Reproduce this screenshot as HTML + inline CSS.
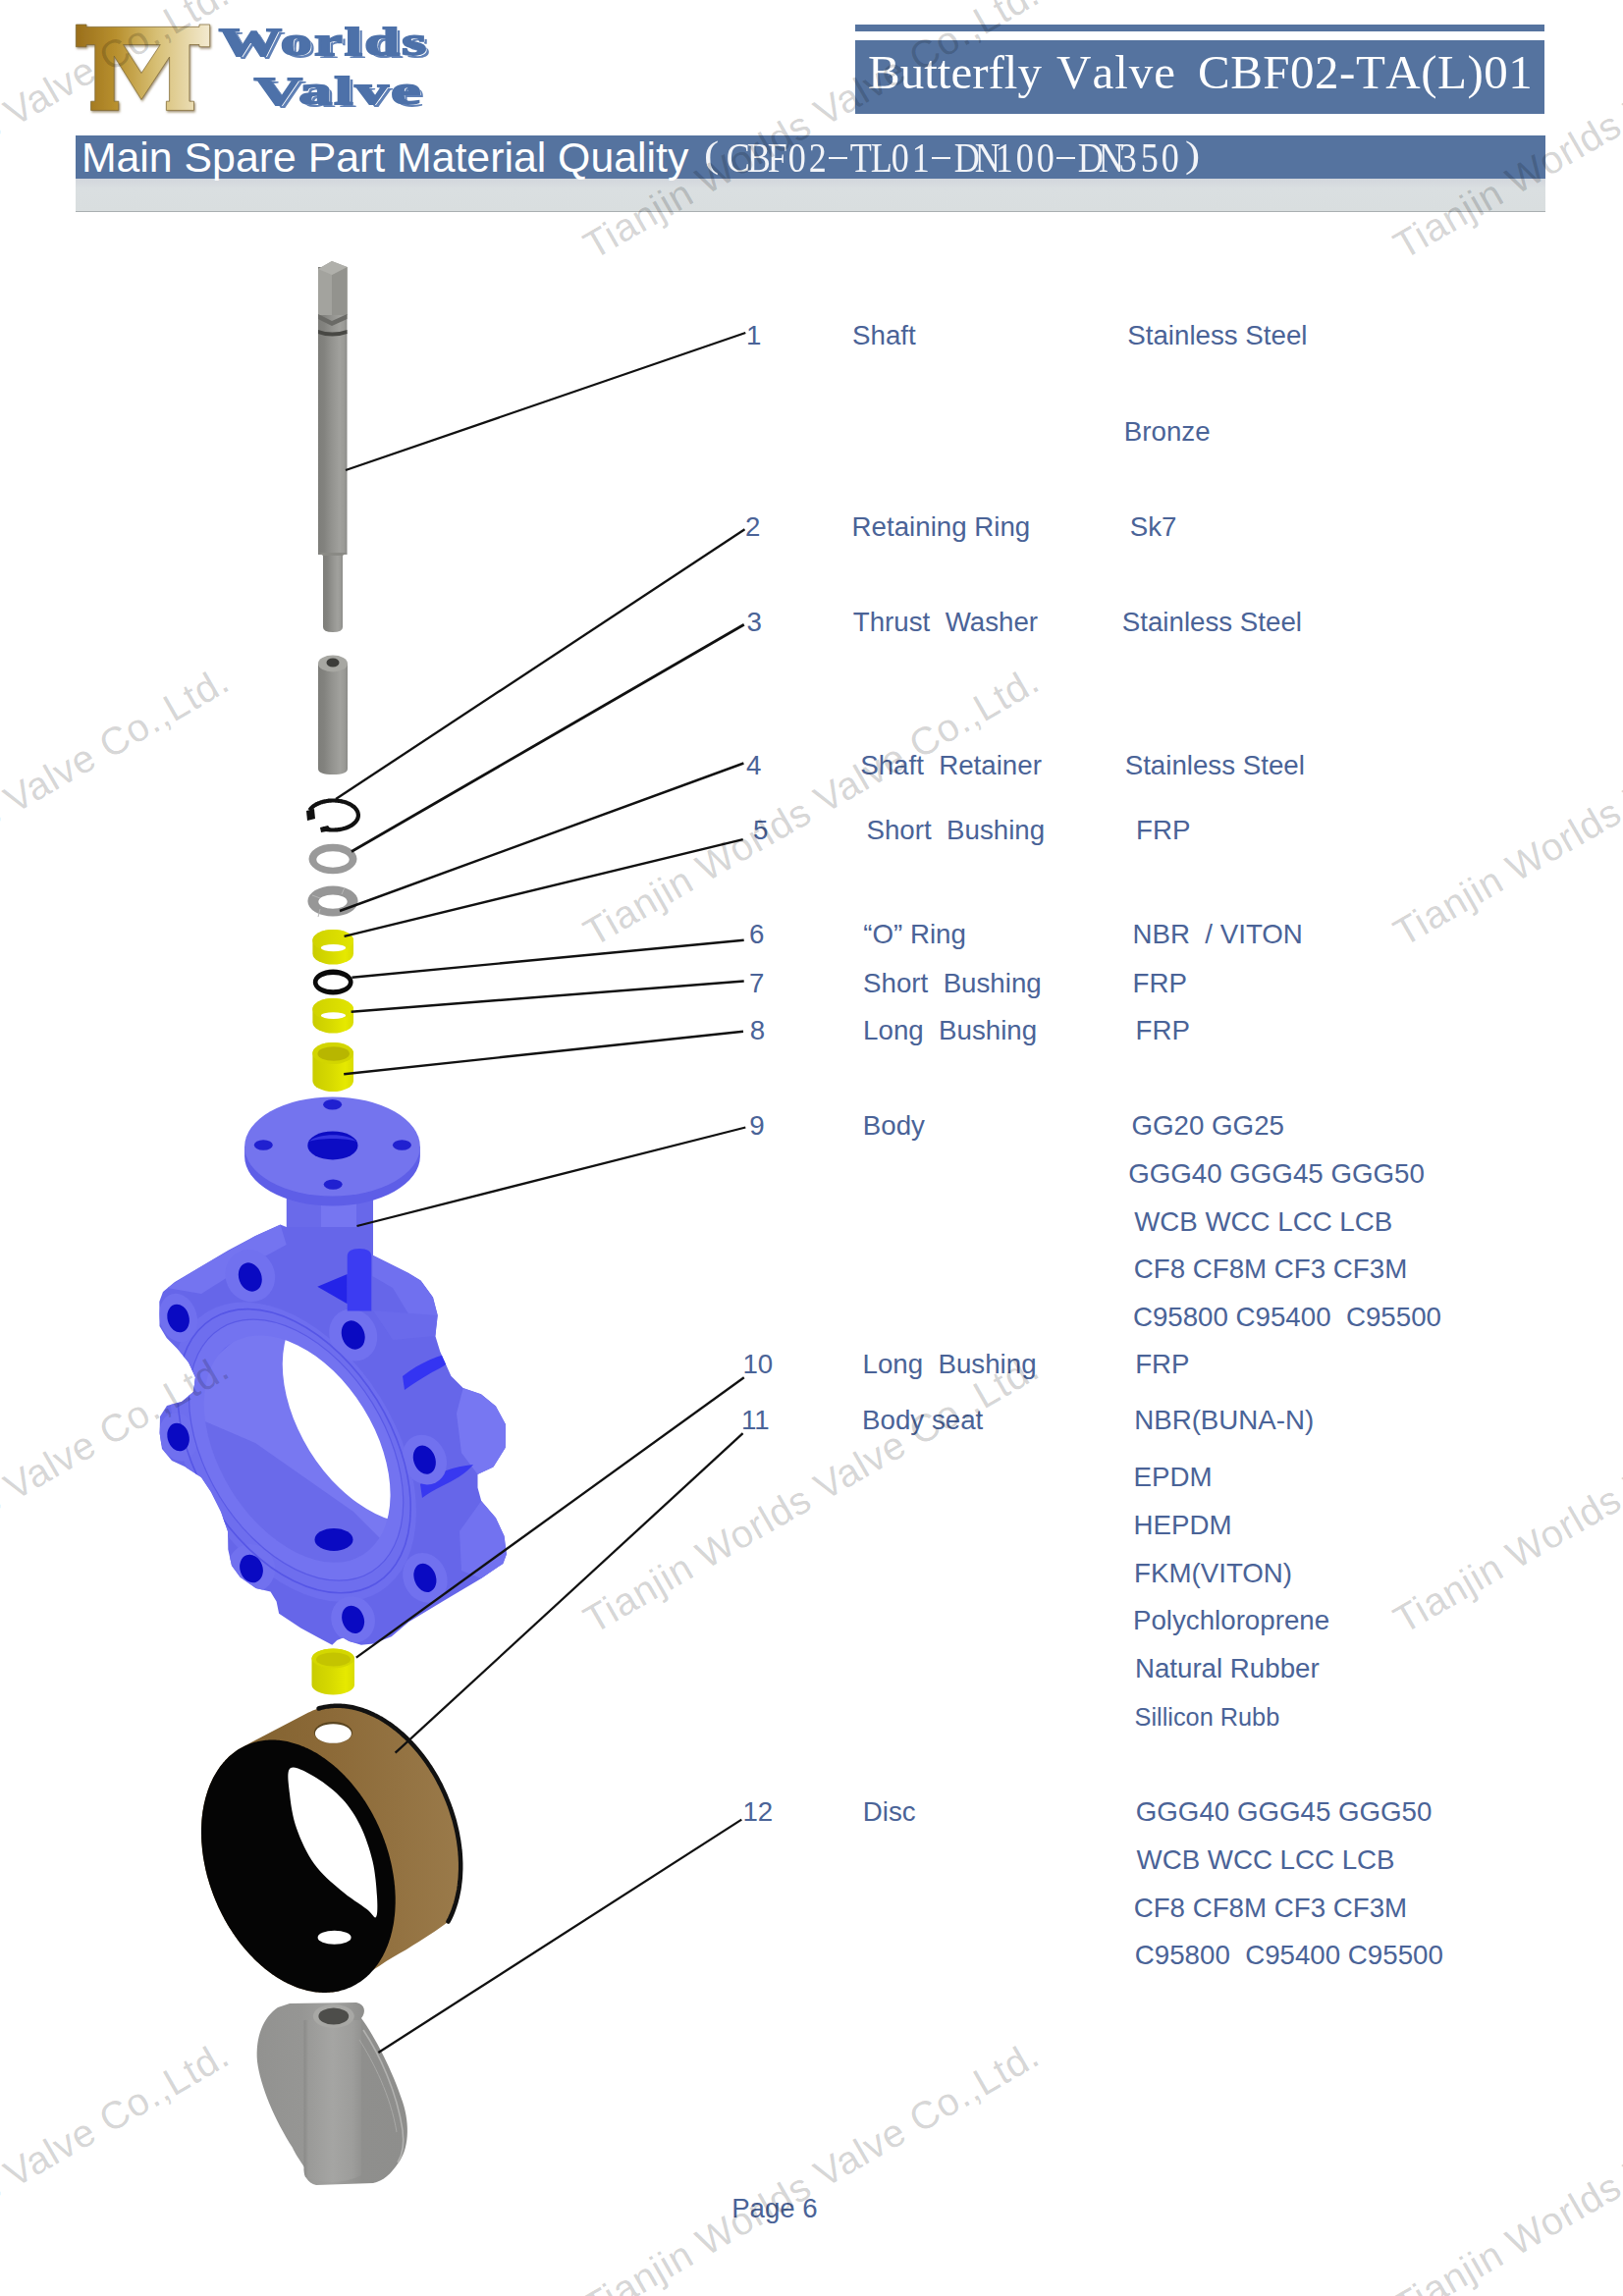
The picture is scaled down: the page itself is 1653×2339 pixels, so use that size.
<!DOCTYPE html>
<html><head><meta charset="utf-8"><title>Butterfly Valve CBF02-TA(L)01</title><style>
*{margin:0;padding:0;box-sizing:border-box}
html,body{width:1653px;height:2339px;overflow:hidden;background:#fff}
body{position:relative;font-family:"Liberation Sans",sans-serif}
.abs{position:absolute}
.t{position:absolute;white-space:pre;line-height:1;font-family:"Liberation Sans",sans-serif}
.wv{position:absolute;white-space:pre;font-family:"Liberation Serif",serif;font-weight:bold;font-size:40px;line-height:1;
 color:#4d71a9;transform-origin:0 0;transform:scaleX(1.42);letter-spacing:1.5px;-webkit-text-stroke:1.8px #4d71a9;
 text-shadow:1.2px 1.2px 0 #fff,2.6px 2.6px 0 #5f80b6}
.ser{position:absolute;white-space:pre;font-family:"Liberation Serif",serif;font-size:49px;line-height:1;color:#fff;font-kerning:none}
.cd{position:absolute;top:138.7px;display:inline-block;text-align:center;font-family:"Liberation Serif",serif;font-size:43px;line-height:1;color:#f2f4f8;
 transform:scaleX(0.84);transform-origin:50% 0}
.cdp{position:absolute;top:137.5px;font-family:"Liberation Serif",serif;font-size:38px;line-height:1;color:#f2f4f8;transform:scaleX(1.2);transform-origin:0 0}
.wm{position:absolute;white-space:pre;font-family:"Liberation Sans",sans-serif;font-size:39.5px;letter-spacing:0.8px;line-height:1;color:rgba(0,0,0,0.18);
 transform:rotate(-30deg)}
</style></head><body>
<svg class="abs" style="left:0;top:0" width="460" height="130" viewBox="0 0 460 130">
<defs><filter id="sh" x="-10%" y="-10%" width="130%" height="130%"><feDropShadow dx="1" dy="1.5" stdDeviation="1" flood-color="#5a4010" flood-opacity="0.6"/></filter></defs>
<path filter="url(#sh)" fill="url(#gGold)" stroke="#7d6530" stroke-width="0.7" d="M77.4,25 L88,25 L88,27.4 L203,27.4 L203,25 L213.7,25 L213.7,47.7 L203,47.7 L203,45.5 L192.9,45.5
 L192.9,103.2 L197.5,103.2 L197.5,112.4 L169.4,112.4 L169.4,103.2 L172.6,103.2 L172.6,58 L144,101.5 L116.2,57
 L116.2,103.2 L120.8,103.2 L120.8,112.4 L92.6,112.4 L92.6,103.2 L96.8,103.2 L96.8,45.5 L88,45.5 L88,47.7 L77.4,47.7 Z
 M125.5,45.5 L163.3,45.5 L144,74.5 Z" fill-rule="evenodd"/>
</svg>
<div class="wv" style="left:223px;top:23px;transform:scaleX(1.6)">Worlds</div>
<div class="wv" style="left:259px;top:73px;transform:scaleX(1.69)">Valve</div>
<div class="abs" style="left:871px;top:25px;width:702px;height:7px;background:#55739f"></div>
<div class="abs" style="left:871px;top:41px;width:702px;height:75px;background:#55739f"></div>
<div class="ser" style="left:884px;top:49px;">Butterfly</div>
<div class="ser" style="left:1076px;top:49px;letter-spacing:1px">Valve</div>
<div class="ser" style="left:1220px;top:49px;letter-spacing:0.5px">CBF02-TA(L)01</div>
<div class="abs" style="left:77px;top:138px;width:1497px;height:43.5px;background:#55739f"></div>
<div class="abs" style="left:77px;top:181.5px;width:1497px;height:33px;background:linear-gradient(#d2d6dc,#dadfe1 30%,#d9dedf)"></div>
<div class="abs" style="left:77px;top:214.5px;width:1497px;height:1.5px;background:#a9afb1"></div>
<div class="t" style="left:82.9px;top:139.2px;font-size:42.8px;color:#fff;">Main Spare Part Material Quality</div>
<div class="abs" style="left:0;top:0;"><span class="cdp" style="left:717px;">(</span><span class="cd" style="left:737.5px;width:21.1px;">C</span><span class="cd" style="left:758.6px;width:21.1px;">B</span><span class="cd" style="left:779.7px;width:21.1px;">F</span><span class="cd" style="left:800.8px;width:21.1px;">0</span><span class="cd" style="left:821.9px;width:21.1px;">2</span><span class="abs" style="left:843.5px;top:159.8px;width:19px;height:1.8px;background:#f2f4f8"></span><span class="cd" style="left:864.1px;width:21.1px;">T</span><span class="cd" style="left:885.2px;width:21.1px;">L</span><span class="cd" style="left:906.3px;width:21.1px;">0</span><span class="cd" style="left:927.4px;width:21.1px;">1</span><span class="abs" style="left:949.0px;top:159.8px;width:19px;height:1.8px;background:#f2f4f8"></span><span class="cd" style="left:969.6px;width:21.1px;">D</span><span class="cd" style="left:990.7px;width:21.1px;">N</span><span class="cd" style="left:1011.8px;width:21.1px;">1</span><span class="cd" style="left:1032.9px;width:21.1px;">0</span><span class="cd" style="left:1054.0px;width:21.1px;">0</span><span class="abs" style="left:1075.6px;top:159.8px;width:19px;height:1.8px;background:#f2f4f8"></span><span class="cd" style="left:1096.2px;width:21.1px;">D</span><span class="cd" style="left:1117.3px;width:21.1px;">N</span><span class="cd" style="left:1138.4px;width:21.1px;">3</span><span class="cd" style="left:1159.5px;width:21.1px;">5</span><span class="cd" style="left:1180.6px;width:21.1px;">0</span><span class="cdp" style="left:1206.5px;">)</span></div>
<svg class="abs" style="left:0;top:0" width="1653" height="2339" viewBox="0 0 1653 2339"><defs>
<linearGradient id="gSh" x1="0" x2="1" y1="0" y2="0">
 <stop offset="0" stop-color="#7e7e7a"/><stop offset="0.2" stop-color="#82827e"/>
 <stop offset="0.45" stop-color="#92928e"/><stop offset="0.75" stop-color="#a1a19d"/><stop offset="0.9" stop-color="#9a9a96"/><stop offset="1" stop-color="#8a8a87"/>
</linearGradient>
<linearGradient id="gY" x1="0" x2="1" y1="0" y2="0">
 <stop offset="0" stop-color="#c9cc00"/><stop offset="0.45" stop-color="#d7da00"/>
 <stop offset="0.8" stop-color="#e6e900"/><stop offset="1" stop-color="#d9dc00"/>
</linearGradient>
<linearGradient id="gYt" x1="0" x2="1" y1="0" y2="0">
 <stop offset="0" stop-color="#cfd200"/><stop offset="1" stop-color="#e2e500"/>
</linearGradient>
<linearGradient id="gGold" x1="0" x2="1" y1="0" y2="0">
 <stop offset="0" stop-color="#9a6f1c"/><stop offset="0.3" stop-color="#b8902e"/>
 <stop offset="0.6" stop-color="#d7bf74"/><stop offset="1" stop-color="#f3ead0"/>
</linearGradient>
<linearGradient id="gBrown" x1="0" x2="1" y1="0" y2="0">
 <stop offset="0" stop-color="#7e5e2c"/><stop offset="0.5" stop-color="#8c6a38"/><stop offset="1" stop-color="#9a7a4a"/>
</linearGradient>
<linearGradient id="gDisc" x1="0" x2="1" y1="0" y2="0">
 <stop offset="0" stop-color="#929290"/><stop offset="0.3" stop-color="#969694"/>
 <stop offset="0.5" stop-color="#a2a2a0"/><stop offset="0.7" stop-color="#8f8f8d"/><stop offset="1" stop-color="#8e8e8c"/>
</linearGradient>
</defs>
<rect x="324" y="339" width="29.5" height="226" fill="url(#gSh)"/>
<path d="M329,563 L349,563 L349,639 Q349,644 339,644 Q329,644 329,639 Z" fill="url(#gSh)"/>
<path d="M324,563 L353.5,563 L349,566 L329,566 Z" fill="#8a8a85"/>
<rect x="324" y="272" width="29.5" height="68" fill="url(#gSh)"/>
<path d="M324,274 L338,266 L353.5,272 L353.5,321 L324,321 Z" fill="#a3a39e"/>
<path d="M338,280 L353.5,272 L353.5,321 L338,321 Z" fill="#93938e"/>
<path d="M324,274 L338,266 L353.5,272 L338,280 Z" fill="#b0b0ab"/>
<path d="M324,320 L338,327 L353.5,320 L353.5,325 L338,332 L324,325 Z" fill="#6a6a66"/>
<path d="M324,336 Q338,341 353.5,336 L353.5,340 Q338,345 324,340 Z" fill="#484844"/>
<path d="M324,676 L354,676 L354,783 Q354,789 339,789 Q324,789 324,783 Z" fill="url(#gSh)"/>
<ellipse cx="339" cy="676" rx="15" ry="8.5" fill="#a7a7a2"/>
<ellipse cx="339" cy="675" rx="6.5" ry="4.5" fill="#3c3c39"/>
<path d="M315.4,825.4 L315.8,824.8 L316.2,824.3 L316.7,823.7 L317.1,823.2 L317.6,822.7 L318.2,822.2 L318.8,821.7 L319.4,821.2 L320.0,820.7 L320.7,820.3 L321.4,819.9 L322.2,819.4 L322.9,819.0 L323.7,818.7 L324.5,818.3 L325.4,818.0 L326.3,817.6 L327.1,817.3 L328.0,817.1 L329.0,816.8 L329.9,816.6 L330.9,816.4 L331.8,816.2 L332.8,816.0 L333.8,815.9 L334.8,815.7 L335.8,815.7 L336.8,815.6 L337.8,815.5 L338.8,815.5 L339.9,815.5 L340.9,815.5 L341.9,815.6 L342.9,815.6 L343.9,815.7 L344.9,815.9 L345.9,816.0 L346.9,816.2 L347.9,816.3 L348.8,816.6 L349.8,816.8 L350.7,817.0 L351.6,817.3 L352.5,817.6 L353.3,817.9 L354.2,818.3 L355.0,818.6 L355.8,819.0 L356.6,819.4 L357.3,819.8 L358.0,820.2 L358.7,820.7 L359.3,821.2 L360.0,821.6 L360.6,822.1 L361.1,822.6 L361.6,823.1 L362.1,823.7 L362.5,824.2 L363.0,824.8 L363.3,825.3 L363.7,825.9 L364.0,826.5 L364.2,827.0 L364.4,827.6 L364.6,828.2 L364.7,828.8 L364.8,829.4 L364.9,830.0 L364.9,830.6 L364.9,831.2 L364.8,831.8 L364.7,832.4 L364.5,833.0 L364.4,833.6 L364.1,834.2 L363.9,834.7 L363.5,835.3 L363.2,835.9 L362.8,836.4 L362.4,837.0 L361.9,837.5 L361.4,838.0 L360.9,838.6 L360.3,839.1 L359.7,839.5 L359.1,840.0 L358.4,840.5 L357.8,840.9 L357.0,841.3 L356.3,841.7 L355.5,842.1 L354.7,842.5 L353.9,842.8 L353.0,843.2 L352.1,843.5 L351.3,843.8 L350.3,844.0 L349.4,844.3 L348.5,844.5 L347.5,844.7 L346.5,844.9 L345.6,845.1 L344.6,845.2 L343.6,845.3 L342.5,845.4 L341.5,845.4 L340.5,845.5 L339.5,845.5 L338.5,845.5 L337.5,845.5 L336.4,845.4 L335.4,845.3 L334.4,845.2 L333.4,845.1 L332.4,844.9 L331.5,844.8 L330.5,844.6 L329.6,844.3 L328.6,844.1" fill="none" stroke="#111" stroke-width="4.2"/>
<path d="M312,826 L320,824 L321,834 L313,836 Z" fill="#111"/>
<path d="M326,843 L334,841 L338,846 L327,848 Z" fill="#111"/>
<path d="M314.5,875 a24.5,15.3 0 1,0 49,0 a24.5,15.3 0 1,0 -49,0 Z M322.3,875.5 a16.7,8.3 0 1,0 33.4,0 a16.7,8.3 0 1,0 -33.4,0 Z" fill="#9a9a9a" fill-rule="evenodd"/>
<path d="M313.4,918 a25.6,15.5 0 1,0 51.2,0 a25.6,15.5 0 1,0 -51.2,0 Z M324.3,918.6 a14.7,7.2 0 1,0 29.4,0 a14.7,7.2 0 1,0 -29.4,0 Z" fill="#979797" fill-rule="evenodd"/>
<path d="M351,904 L348,911 M326,926 L324,934 M318,912 L326,915" stroke="#b5b5b5" stroke-width="1" fill="none"/>
<path d="M318.4,958 L318.4,971.5 A20.8,11 0 0,0 360.0,971.5 L360.0,958 A20.8,11 0 0,0 318.4,958 Z" fill="url(#gY)"/><ellipse cx="339.2" cy="958" rx="20.8" ry="11" fill="url(#gYt)"/><ellipse cx="339.5" cy="965.6" rx="12.6" ry="3.6" fill="#fff"/>
<path d="M318.4,1028 L318.4,1041.6 A20.8,11 0 0,0 360.0,1041.6 L360.0,1028 A20.8,11 0 0,0 318.4,1028 Z" fill="url(#gY)"/><ellipse cx="339.2" cy="1028" rx="20.8" ry="11" fill="url(#gYt)"/><ellipse cx="339.5" cy="1034.6" rx="12.6" ry="3.3" fill="#fff"/>
<path d="M318.4,1073 L318.4,1101 A20.8,11 0 0,0 360,1101 L360,1073 A20.8,11 0 0,0 318.4,1073 Z" fill="url(#gY)"/>
<ellipse cx="339.2" cy="1073" rx="20.8" ry="11" fill="#d2d500"/>
<ellipse cx="339.7" cy="1073.5" rx="16.2" ry="7.3" fill="#b8b600"/>
<path d="M318.8,1000.5 a20.4,13 0 1,0 40.8,0 a20.4,13 0 1,0 -40.8,0 Z M323.5,1000.6 a15.7,7.6 0 1,0 31.4,0 a15.7,7.6 0 1,0 -31.4,0 Z" fill="#0a0a0a" fill-rule="evenodd"/>
<rect x="291.8" y="1200" width="88.1" height="110" fill="#6a6aea"/>
<rect x="327" y="1212" width="36" height="98" fill="#7676f1"/>
<rect x="363" y="1212" width="16.9" height="98" fill="#6868ea"/>
<path d="M285.5,1247.4 L260.0,1259.0 L232.0,1274.0 L200.0,1293.0 L178.0,1306.0 L166.0,1316.0 L162.3,1326.0 L162.5,1351.0 L169.7,1363.0 L182.0,1375.6 L192.0,1388.0 L199.0,1403.0 L197.0,1418.0 L185.0,1428.0 L170.0,1432.0 L163.0,1443.0 L162.6,1460.0 L165.0,1476.0 L175.0,1488.0 L188.0,1494.0 L205.0,1505.0 L215.0,1520.0 L225.0,1540.0 L232.0,1560.0 L232.3,1578.5 L236.0,1595.0 L244.6,1606.8 L260.7,1617.9 L275.5,1621.6 L281.6,1631.5 L284.1,1643.8 L306.3,1658.6 L324.7,1668.4 L338.3,1675.8 L343.2,1670.9 L349.4,1668.4 L355.6,1672.1 L367.9,1675.8 L380.2,1674.6 L398.7,1667.2 L416.3,1652.2 L453.2,1630.0 L490.2,1607.9 L512.4,1593.0 L516.0,1583.2 L513.6,1564.7 L505.0,1546.3 L490.2,1529.0 L486.5,1515.5 L486.5,1502.0 L502.5,1494.5 L514.8,1474.8 L515.0,1451.0 L505.0,1432.5 L490.0,1420.2 L471.7,1414.0 L459.4,1401.7 L448.3,1377.0 L443.4,1361.0 L445.8,1340.0 L441.0,1321.6 L428.6,1304.4 L416.3,1297.0 L379.3,1278.5 L379.3,1250.0 L291.7,1250.0 Z" fill="#6666e9"/>
<clipPath id="cSil"><path d="M285.5,1247.4 L260.0,1259.0 L232.0,1274.0 L200.0,1293.0 L178.0,1306.0 L166.0,1316.0 L162.3,1326.0 L162.5,1351.0 L169.7,1363.0 L182.0,1375.6 L192.0,1388.0 L199.0,1403.0 L197.0,1418.0 L185.0,1428.0 L170.0,1432.0 L163.0,1443.0 L162.6,1460.0 L165.0,1476.0 L175.0,1488.0 L188.0,1494.0 L205.0,1505.0 L215.0,1520.0 L225.0,1540.0 L232.0,1560.0 L232.3,1578.5 L236.0,1595.0 L244.6,1606.8 L260.7,1617.9 L275.5,1621.6 L281.6,1631.5 L284.1,1643.8 L306.3,1658.6 L324.7,1668.4 L338.3,1675.8 L343.2,1670.9 L349.4,1668.4 L355.6,1672.1 L367.9,1675.8 L380.2,1674.6 L398.7,1667.2 L416.3,1652.2 L453.2,1630.0 L490.2,1607.9 L512.4,1593.0 L516.0,1583.2 L513.6,1564.7 L505.0,1546.3 L490.2,1529.0 L486.5,1515.5 L486.5,1502.0 L502.5,1494.5 L514.8,1474.8 L515.0,1451.0 L505.0,1432.5 L490.0,1420.2 L471.7,1414.0 L459.4,1401.7 L448.3,1377.0 L443.4,1361.0 L445.8,1340.0 L441.0,1321.6 L428.6,1304.4 L416.3,1297.0 L379.3,1278.5 L379.3,1250.0 L291.7,1250.0 Z"/></clipPath>
<g clip-path="url(#cSil)">
<path d="M285.5,1247.4 L260,1259 L200,1293 L170,1312 L205,1318 L240,1296 L291.7,1268 Z" fill="#7474f0"/>
<path d="M379.3,1278.5 L416.3,1297 L428.6,1304.4 L441,1321.6 L445.8,1340 L443.4,1361 L420,1345 L400,1312 L379.3,1300 Z" fill="#7070ef"/>
<path d="M471.7,1414 L490,1420.2 L505,1432.5 L515,1451 L514.8,1474.8 L502.5,1494.5 L486.5,1502 L470,1480 L465,1440 Z" fill="#7777f2"/>
<path d="M490.2,1529 L505,1546.3 L513.6,1564.7 L516,1583.2 L512.4,1593 L490.2,1607.9 L470,1600 L468,1560 Z" fill="#7272f0"/>
<path d="M410,1402 C428,1388 446,1380 470,1376 C462,1386 452,1392 440,1398 C430,1404 420,1410 412,1416 Z" fill="#3434f2"/>
<path d="M428,1512 C445,1500 462,1494 482,1492 C474,1502 462,1508 450,1514 C442,1518 435,1522 430,1526 Z" fill="#3838f0"/>
<path d="M380,1335 L445,1340 L443.4,1361 L400,1365 Z" fill="#6a6aeb"/>
<ellipse cx="298.65" cy="1479.18" rx="167.51" ry="104.64" transform="rotate(58.23 298.65 1479.18)" fill="#6e6eee" />
<ellipse cx="254.8" cy="1299.6" rx="25" ry="27" transform="rotate(-25 254.8 1299.6)" fill="#7171ef"/>
<ellipse cx="359.7" cy="1360" rx="24" ry="27" transform="rotate(-25 359.7 1360)" fill="#7171ef"/>
<ellipse cx="432.3" cy="1487.1" rx="22" ry="26" transform="rotate(-25 432.3 1487.1)" fill="#7171ef"/>
<ellipse cx="432.9" cy="1607.3" rx="22" ry="26" transform="rotate(-25 432.9 1607.3)" fill="#7171ef"/>
<ellipse cx="359.6" cy="1649.8" rx="22" ry="24" transform="rotate(-25 359.6 1649.8)" fill="#7171ef"/>
<ellipse cx="256" cy="1597.7" rx="24" ry="25" transform="rotate(-25 256 1597.7)" fill="#7171ef"/>
<ellipse cx="181.6" cy="1342.5" rx="19" ry="25" transform="rotate(-15 181.6 1342.5)" fill="#7070ef"/>
<ellipse cx="181.6" cy="1463.8" rx="19" ry="25" transform="rotate(-15 181.6 1463.8)" fill="#7070ef"/>
<ellipse cx="299.6" cy="1478.2" rx="158.6" ry="99.1" transform="rotate(58.23 299.6 1478.2)" fill="none" stroke="#5656e6" stroke-width="1.6"/>
<ellipse cx="301.6" cy="1477.2" rx="145.9" ry="91.2" transform="rotate(58.23 301.6 1477.2)" fill="#7373f0" stroke="#5a5ae6" stroke-width="1.2"/>
<ellipse cx="302.65" cy="1476.18" rx="126.90" ry="79.27" transform="rotate(58.23 302.65 1476.18)" fill="#7878f1" />
<clipPath id="cBF"><ellipse cx="302.65" cy="1476.18" rx="126.90" ry="79.27" transform="rotate(58.23 302.65 1476.18)" fill="#000" /></clipPath>
<g clip-path="url(#cBF)"><path d="M190,1440 L260,1470 L360,1540 L420,1600 L420,1640 L180,1640 Z" fill="#6a6aea"/><path d="M190,1380 L250,1340 L262,1345 L205,1395 Z" fill="#5c5cec"/></g>
<g clip-path="url(#cBF)"><ellipse cx="382.65" cy="1436.18" rx="126.90" ry="79.27" transform="rotate(58.23 382.65 1436.18)" fill="#ffffff" /></g>
<ellipse cx="254.8" cy="1301" rx="11.5" ry="15" transform="rotate(-20 254.8 1301)" fill="#0a0ac2"/>
<ellipse cx="181.6" cy="1343" rx="11" ry="14.5" transform="rotate(-15 181.6 1343)" fill="#0a0ac2"/>
<ellipse cx="359.7" cy="1360" rx="11.5" ry="15" transform="rotate(-20 359.7 1360)" fill="#0a0ac2"/>
<ellipse cx="181.6" cy="1464" rx="11" ry="14.5" transform="rotate(-15 181.6 1464)" fill="#0a0ac2"/>
<ellipse cx="432.3" cy="1487.1" rx="11" ry="15" transform="rotate(-20 432.3 1487.1)" fill="#0a0ac2"/>
<ellipse cx="256" cy="1598" rx="11.5" ry="14.5" transform="rotate(-20 256 1598)" fill="#0a0ac2"/>
<ellipse cx="432.9" cy="1607.3" rx="11" ry="15" transform="rotate(-20 432.9 1607.3)" fill="#0a0ac2"/>
<ellipse cx="359.6" cy="1649.8" rx="11" ry="14.5" transform="rotate(-20 359.6 1649.8)" fill="#0a0ac2"/>
<ellipse cx="340" cy="1568.4" rx="19.5" ry="11.5" fill="#0a0ac2"/>
</g>
<path d="M323.3,1310.8 L353.7,1297.9 L353.7,1328.3 Z" fill="#2424e8"/>
<path d="M353.7,1280 Q353.7,1272 366,1272 Q378.3,1272 378.3,1280 L378.3,1335.4 L353.7,1335.4 Z" fill="#3c3cf2"/>
<path d="M249.1,1168 L249.1,1178 A89.4,50.5 0 0,0 427.9,1178 L427.9,1168 Z" fill="#5e5ee7"/>
<ellipse cx="338.5" cy="1168" rx="89.4" ry="50.5" fill="#7474ee"/>
<ellipse cx="338.9" cy="1166.9" rx="25.6" ry="14.5" fill="#0c0cc4"/>
<path d="M315,1163 C322,1154 356,1154 363,1163 C355,1159 323,1159 315,1163 Z" fill="#3434e0"/>
<ellipse cx="338.6" cy="1125.3" rx="9.5" ry="5.2" fill="#2020d0"/>
<ellipse cx="268.3" cy="1166.5" rx="9.5" ry="5.2" fill="#2020d0"/>
<ellipse cx="409.4" cy="1166.5" rx="9.5" ry="5.2" fill="#2020d0"/>
<ellipse cx="339.2" cy="1206.6" rx="9.5" ry="5.2" fill="#2020d0"/>
<path d="M317.5,1689.5 L317.5,1716.5 A21.75,10 0 0,0 361,1716.5 L361,1689.5 A21.75,10 0 0,0 317.5,1689.5 Z" fill="url(#gY)"/>
<ellipse cx="339.25" cy="1689.5" rx="21.75" ry="10" fill="#d4d700"/>
<ellipse cx="339.5" cy="1690.5" rx="17.5" ry="7" fill="#c4c400"/>
<path d="M205.0,1865.5 L205.0,1863.3 L205.1,1861.2 L205.2,1859.1 L205.3,1857.0 L205.4,1854.9 L205.6,1852.8 L205.8,1850.7 L206.1,1848.6 L206.3,1846.6 L206.6,1844.6 L207.0,1842.6 L207.3,1840.6 L207.7,1838.6 L208.1,1836.6 L208.6,1834.7 L209.0,1832.8 L209.5,1830.9 L210.1,1829.0 L210.6,1827.2 L211.2,1825.4 L211.8,1823.6 L212.5,1821.8 L213.1,1820.0 L213.8,1818.3 L214.6,1816.6 L215.3,1814.9 L216.1,1813.3 L216.9,1811.6 L217.7,1810.0 L218.6,1808.5 L219.5,1806.9 L220.4,1805.4 L221.3,1803.9 L222.3,1802.5 L223.3,1801.0 L224.3,1799.6 L225.3,1798.3 L226.4,1796.9 L227.5,1795.6 L228.6,1794.4 L229.7,1793.1 L230.9,1791.9 L232.0,1790.8 L233.2,1789.6 L234.4,1788.5 L235.7,1787.5 L236.9,1786.4 L238.2,1785.4 L239.5,1784.5 L240.8,1783.5 L242.2,1782.6 L243.5,1781.8 L244.9,1781.0 L246.3,1780.2 L247.7,1779.4 L314.2,1744.6 L315.6,1743.9 L317.1,1743.3 L318.6,1742.6 L320.0,1742.0 L321.5,1741.5 L323.0,1740.9 L324.6,1740.5 L326.1,1740.0 L327.6,1739.6 L329.2,1739.3 L330.8,1738.9 L332.4,1738.6 L334.0,1738.4 L335.6,1738.2 L337.2,1738.0 L338.8,1737.9 L340.5,1737.8 L342.1,1737.7 L343.8,1737.7 L345.4,1737.7 L347.1,1737.8 L348.8,1737.9 L350.5,1738.0 L352.2,1738.2 L353.9,1738.4 L355.6,1738.7 L357.3,1739.0 L359.0,1739.3 L360.7,1739.7 L362.4,1740.1 L364.1,1740.6 L365.9,1741.1 L367.6,1741.6 L369.3,1742.2 L371.0,1742.8 L372.8,1743.4 L374.5,1744.1 L376.2,1744.8 L377.9,1745.6 L379.6,1746.3 L381.4,1747.2 L383.1,1748.0 L384.8,1748.9 L386.5,1749.9 L388.2,1750.8 L389.9,1751.8 L391.6,1752.9 L393.3,1754.0 L394.9,1755.1 L396.6,1756.2 L398.3,1757.4 L399.9,1758.6 L401.5,1759.9 L403.2,1761.1 L404.8,1762.4 L406.4,1763.8 L408.0,1765.1 L409.6,1766.5 L411.2,1768.0 L412.7,1769.4 L414.3,1770.9 L415.8,1772.5 L417.4,1774.0 L418.9,1775.6 L420.4,1777.2 L421.8,1778.8 L423.3,1780.5 L424.8,1782.2 L426.2,1783.9 L427.6,1785.6 L429.0,1787.4 L430.4,1789.2 L431.7,1791.0 L433.1,1792.8 L434.4,1794.6 L435.7,1796.5 L437.0,1798.4 L438.3,1800.3 L439.5,1802.3 L440.7,1804.2 L441.9,1806.2 L443.1,1808.2 L444.3,1810.2 L445.4,1812.2 L446.5,1814.3 L447.6,1816.4 L448.7,1818.4 L449.7,1820.5 L450.7,1822.6 L451.7,1824.7 L452.7,1826.9 L453.6,1829.0 L454.5,1831.2 L455.4,1833.3 L456.3,1835.5 L457.1,1837.7 L458.0,1839.9 L458.7,1842.1 L459.5,1844.3 L460.2,1846.5 L460.9,1848.7 L461.6,1851.0 L462.3,1853.2 L462.9,1855.4 L463.5,1857.7 L464.0,1859.9 L464.6,1862.2 L465.1,1864.4 L465.6,1866.7 L466.0,1868.9 L466.4,1871.2 L466.8,1873.4 L467.2,1875.6 L467.5,1877.9 L467.8,1880.1 L468.1,1882.3 L468.3,1884.6 L468.6,1886.8 L468.7,1889.0 L468.9,1891.2 L469.0,1893.4 L469.1,1895.6 L469.2,1897.8 L469.2,1900.0 L469.2,1902.1 L469.2,1904.3 L469.1,1906.4 L469.0,1908.6 L468.9,1910.7 L468.8,1912.8 L468.6,1914.9 L468.4,1916.9 L468.1,1919.0 L467.9,1921.0 L467.6,1923.1 L467.3,1925.1 L466.9,1927.1 L466.5,1929.0 L466.1,1931.0 L465.7,1932.9 L465.2,1934.8 L464.7,1936.7 L464.2,1938.6 L463.6,1940.4 L463.0,1942.3 L462.4,1944.1 L461.8,1945.8 L461.1,1947.6 L460.4,1949.3 L459.7,1951.0 L458.9,1952.7 L458.1,1954.4 L457.3,1956.0 L456.5,1957.6 L455.6,1959.2 L454.7,1960.7 L453.8,1962.2 L452.9,1963.7 L451.9,1965.2 L450.9,1966.6 L449.9,1968.0 L448.9,1969.3 L447.8,1970.7 L446.8,1972.0 L445.6,1973.3 L444.5,1974.5 L443.4,1975.7 L442.2,1976.9 L441.0,1978.0 L439.8,1979.1 L438.5,1980.2 L437.3,1981.2 L436.0,1982.2 L434.7,1983.2 L433.4,1984.1 L432.0,1985.0 L430.7,1985.8 L429.3,1986.7 L427.9,1987.4 L426.5,1988.2 L360.0,2023.0 L358.6,2023.7 L357.1,2024.4 L355.7,2025.0 L354.2,2025.6 L352.7,2026.2 L351.2,2026.7 L349.7,2027.2 L348.1,2027.6 L346.6,2028.0 L345.0,2028.4 L343.4,2028.7 L341.9,2029.0 L340.3,2029.2 L338.7,2029.4 L337.0,2029.6 L335.4,2029.7 L333.8,2029.8 L332.1,2029.9 L330.5,2029.9 L328.8,2029.9 L327.1,2029.8 L325.4,2029.7 L323.7,2029.6 L322.1,2029.4 L320.4,2029.2 L318.7,2028.9 L316.9,2028.6 L315.2,2028.3 L313.5,2027.9 L311.8,2027.5 L310.1,2027.0 L308.4,2026.6 L306.6,2026.0 L304.9,2025.5 L303.2,2024.9 L301.5,2024.2 L299.7,2023.5 L298.0,2022.8 L296.3,2022.1 L294.6,2021.3 L292.9,2020.4 L291.1,2019.6 L289.4,2018.7 L287.7,2017.7 L286.0,2016.8 L284.3,2015.8 L282.6,2014.7 L281.0,2013.7 L279.3,2012.5 L277.6,2011.4 L276.0,2010.2 L274.3,2009.0 L272.7,2007.8 L271.0,2006.5 L269.4,2005.2 L267.8,2003.8 L266.2,2002.5 L264.6,2001.1 L263.0,1999.6 L261.5,1998.2 L259.9,1996.7 L258.4,1995.2 L256.9,1993.6 L255.3,1992.0 L253.9,1990.4 L252.4,1988.8 L250.9,1987.1 L249.5,1985.5 L248.0,1983.7 L246.6,1982.0 L245.2,1980.2 L243.8,1978.5 L242.5,1976.7 L241.1,1974.8 L239.8,1973.0 L238.5,1971.1 L237.2,1969.2 L236.0,1967.3 L234.7,1965.3 L233.5,1963.4 L232.3,1961.4 L231.1,1959.4 L230.0,1957.4 L228.8,1955.4 L227.7,1953.3 L226.6,1951.3 L225.6,1949.2 L224.5,1947.1 L223.5,1945.0 L222.5,1942.9 L221.5,1940.7 L220.6,1938.6 L219.7,1936.4 L218.8,1934.3 L217.9,1932.1 L217.1,1929.9 L216.3,1927.7 L215.5,1925.5 L214.7,1923.3 L214.0,1921.1 L213.3,1918.9 L212.6,1916.6 L212.0,1914.4 L211.3,1912.2 L210.7,1909.9 L210.2,1907.7 L209.6,1905.4 L209.1,1903.2 L208.7,1901.0 L208.2,1898.7 L207.8,1896.5 L207.4,1894.2 L207.0,1892.0 L206.7,1889.7 L206.4,1887.5 L206.1,1885.3 L205.9,1883.0 L205.7,1880.8 L205.5,1878.6 L205.3,1876.4 L205.2,1874.2 L205.1,1872.0 L205.1,1869.8 L205.0,1867.7 Z" fill="url(#gBrown)"/>
<path d="M455.5,1958.6 C446,1966 432,1975 414,1986 C405,1991 396,1996 386,2003 L370,2013 L340,2032 L340,2045 L520,2045 L520,1958.6 Z" fill="#fff"/>
<path d="M324.6,1740.5 L326.1,1740.0 L327.6,1739.6 L329.2,1739.3 L330.8,1738.9 L332.4,1738.6 L334.0,1738.4 L335.6,1738.2 L337.2,1738.0 L338.8,1737.9 L340.5,1737.8 L342.1,1737.7 L343.8,1737.7 L345.4,1737.7 L347.1,1737.8 L348.8,1737.9 L350.5,1738.0 L352.2,1738.2 L353.9,1738.4 L355.6,1738.7 L357.3,1739.0 L359.0,1739.3 L360.7,1739.7 L362.4,1740.1 L364.1,1740.6 L365.9,1741.1 L367.6,1741.6 L369.3,1742.2 L371.0,1742.8 L372.8,1743.4 L374.5,1744.1 L376.2,1744.8 L377.9,1745.6 L379.6,1746.3 L381.4,1747.2 L383.1,1748.0 L384.8,1748.9 L386.5,1749.9 L388.2,1750.8 L389.9,1751.8 L391.6,1752.9 L393.3,1754.0 L394.9,1755.1 L396.6,1756.2 L398.3,1757.4 L399.9,1758.6 L401.5,1759.9 L403.2,1761.1 L404.8,1762.4 L406.4,1763.8 L408.0,1765.1 L409.6,1766.5 L411.2,1768.0 L412.7,1769.4 L414.3,1770.9 L415.8,1772.5 L417.4,1774.0 L418.9,1775.6 L420.4,1777.2 L421.8,1778.8 L423.3,1780.5 L424.8,1782.2 L426.2,1783.9 L427.6,1785.6 L429.0,1787.4 L430.4,1789.2 L431.7,1791.0 L433.1,1792.8 L434.4,1794.6 L435.7,1796.5 L437.0,1798.4 L438.3,1800.3 L439.5,1802.3 L440.7,1804.2 L441.9,1806.2 L443.1,1808.2 L444.3,1810.2 L445.4,1812.2 L446.5,1814.3 L447.6,1816.4 L448.7,1818.4 L449.7,1820.5 L450.7,1822.6 L451.7,1824.7 L452.7,1826.9 L453.6,1829.0 L454.5,1831.2 L455.4,1833.3 L456.3,1835.5 L457.1,1837.7 L458.0,1839.9 L458.7,1842.1 L459.5,1844.3 L460.2,1846.5 L460.9,1848.7 L461.6,1851.0 L462.3,1853.2 L462.9,1855.4 L463.5,1857.7 L464.0,1859.9 L464.6,1862.2 L465.1,1864.4 L465.6,1866.7 L466.0,1868.9 L466.4,1871.2 L466.8,1873.4 L467.2,1875.6 L467.5,1877.9 L467.8,1880.1 L468.1,1882.3 L468.3,1884.6 L468.6,1886.8 L468.7,1889.0 L468.9,1891.2 L469.0,1893.4 L469.1,1895.6 L469.2,1897.8 L469.2,1900.0 L469.2,1902.1 L469.2,1904.3 L469.1,1906.4 L469.0,1908.6 L468.9,1910.7 L468.8,1912.8 L468.6,1914.9 L468.4,1916.9 L468.1,1919.0 L467.9,1921.0 L467.6,1923.1 L467.3,1925.1 L466.9,1927.1 L466.5,1929.0 L466.1,1931.0 L465.7,1932.9 L465.2,1934.8 L464.7,1936.7 L464.2,1938.6 L463.6,1940.4 L463.0,1942.3 L462.4,1944.1 L461.8,1945.8 L461.1,1947.6 L460.4,1949.3 L459.7,1951.0 L458.9,1952.7 L458.1,1954.4 L457.3,1956.0 L456.5,1957.6" fill="none" stroke="#111" stroke-width="4.5" stroke-linecap="round"/>
<path d="M355.7,2025.0 L354.2,2025.6 L352.7,2026.2 L351.2,2026.7 L349.7,2027.2 L348.1,2027.6 L346.6,2028.0 L345.0,2028.4 L343.4,2028.7 L341.9,2029.0 L340.3,2029.2 L338.7,2029.4 L337.0,2029.6 L335.4,2029.7 L333.8,2029.8 L332.1,2029.9 L330.5,2029.9 L328.8,2029.9 L327.1,2029.8 L325.4,2029.7 L323.7,2029.6 L322.1,2029.4 L320.4,2029.2 L318.7,2028.9 L316.9,2028.6 L315.2,2028.3 L313.5,2027.9 L311.8,2027.5 L310.1,2027.0 L308.4,2026.6 L306.6,2026.0 L304.9,2025.5 L303.2,2024.9 L301.5,2024.2 L299.7,2023.5 L298.0,2022.8 L296.3,2022.1 L294.6,2021.3 L292.9,2020.4 L291.1,2019.6 L289.4,2018.7 L287.7,2017.7 L286.0,2016.8 L284.3,2015.8 L282.6,2014.7 L281.0,2013.7 L279.3,2012.5 L277.6,2011.4 L276.0,2010.2 L274.3,2009.0 L272.7,2007.8 L271.0,2006.5 L269.4,2005.2 L267.8,2003.8 L266.2,2002.5 L264.6,2001.1 L263.0,1999.6 L261.5,1998.2 L259.9,1996.7 L258.4,1995.2 L256.9,1993.6 L255.3,1992.0 L253.9,1990.4 L252.4,1988.8 L250.9,1987.1 L249.5,1985.5 L248.0,1983.7 L246.6,1982.0 L245.2,1980.2 L243.8,1978.5 L242.5,1976.7 L241.1,1974.8 L239.8,1973.0 L238.5,1971.1 L237.2,1969.2 L236.0,1967.3 L234.7,1965.3 L233.5,1963.4 L232.3,1961.4 L231.1,1959.4 L230.0,1957.4 L228.8,1955.4 L227.7,1953.3 L226.6,1951.3 L225.6,1949.2 L224.5,1947.1 L223.5,1945.0 L222.5,1942.9 L221.5,1940.7 L220.6,1938.6 L219.7,1936.4 L218.8,1934.3 L217.9,1932.1 L217.1,1929.9 L216.3,1927.7 L215.5,1925.5 L214.7,1923.3 L214.0,1921.1 L213.3,1918.9 L212.6,1916.6 L212.0,1914.4 L211.3,1912.2 L210.7,1909.9 L210.2,1907.7 L209.6,1905.4 L209.1,1903.2 L208.7,1901.0 L208.2,1898.7 L207.8,1896.5 L207.4,1894.2 L207.0,1892.0 L206.7,1889.7 L206.4,1887.5 L206.1,1885.3 L205.9,1883.0 L205.7,1880.8 L205.5,1878.6 L205.3,1876.4 L205.2,1874.2 L205.1,1872.0 L205.1,1869.8 L205.0,1867.7 L205.0,1865.5 L205.0,1863.3 L205.1,1861.2 L205.2,1859.1 L205.3,1857.0 L205.4,1854.9 L205.6,1852.8 L205.8,1850.7 L206.1,1848.6 L206.3,1846.6 L206.6,1844.6 L207.0,1842.6 L207.3,1840.6 L207.7,1838.6 L208.1,1836.6 L208.6,1834.7 L209.0,1832.8 L209.5,1830.9 L210.1,1829.0 L210.6,1827.2 L211.2,1825.4 L211.8,1823.6 L212.5,1821.8 L213.1,1820.0 L213.8,1818.3 L214.6,1816.6 L215.3,1814.9 L216.1,1813.3 L216.9,1811.6 L217.7,1810.0 L218.6,1808.5 L219.5,1806.9 L220.4,1805.4 L221.3,1803.9 L222.3,1802.5 L223.3,1801.0 L224.3,1799.6 L225.3,1798.3 L226.4,1796.9 L227.5,1795.6 L228.6,1794.4 L229.7,1793.1 L230.9,1791.9 L232.0,1790.8 L233.2,1789.6 L234.4,1788.5 L235.7,1787.5 L236.9,1786.4 L238.2,1785.4 L239.5,1784.5 L240.8,1783.5 L242.2,1782.6 L243.5,1781.8 L244.9,1781.0 L246.3,1780.2 L247.7,1779.4 L249.1,1778.7 L250.6,1778.1 L252.1,1777.4 L253.5,1776.8 L255.0,1776.3 L256.5,1775.7 L258.1,1775.3 L259.6,1774.8 L261.1,1774.4 L262.7,1774.1 L264.3,1773.7 L265.9,1773.4 L267.5,1773.2 L269.1,1773.0 L270.7,1772.8 L272.3,1772.7 L274.0,1772.6 L275.6,1772.5 L277.3,1772.5 L278.9,1772.5 L280.6,1772.6 L282.3,1772.7 L284.0,1772.8 L285.7,1773.0 L287.4,1773.2 L289.1,1773.5 L290.8,1773.8 L292.5,1774.1 L294.2,1774.5 L295.9,1774.9 L297.6,1775.4 L299.4,1775.9 L301.1,1776.4 L302.8,1777.0 L304.5,1777.6 L306.3,1778.2 L308.0,1778.9 L309.7,1779.6 L311.4,1780.4 L313.1,1781.1 L314.9,1782.0 L316.6,1782.8 L318.3,1783.7 L320.0,1784.7 L321.7,1785.6 L323.4,1786.6 L325.1,1787.7 L326.8,1788.8 L328.4,1789.9 L330.1,1791.0 L331.8,1792.2 L333.4,1793.4 L335.0,1794.7 L336.7,1795.9 L338.3,1797.2 L339.9,1798.6 L341.5,1799.9 L343.1,1801.3 L344.7,1802.8 L346.2,1804.2 L347.8,1805.7 L349.3,1807.3 L350.9,1808.8 L352.4,1810.4 L353.9,1812.0 L355.3,1813.6 L356.8,1815.3 L358.3,1817.0 L359.7,1818.7 L361.1,1820.4 L362.5,1822.2 L363.9,1824.0 L365.2,1825.8 L366.6,1827.6 L367.9,1829.4 L369.2,1831.3 L370.5,1833.2 L371.8,1835.1 L373.0,1837.1 L374.2,1839.0 L375.4,1841.0 L376.6,1843.0 L377.8,1845.0 L378.9,1847.0 L380.0,1849.1 L381.1,1851.2 L382.2,1853.2 L383.2,1855.3 L384.2,1857.4 L385.2,1859.5 L386.2,1861.7 L387.1,1863.8 L388.0,1866.0 L388.9,1868.1 L389.8,1870.3 L390.6,1872.5 L391.5,1874.7 L392.2,1876.9 L393.0,1879.1 L393.7,1881.3 L394.4,1883.5 L395.1,1885.8 L395.8,1888.0 L396.4,1890.2 L397.0,1892.5 L397.5,1894.7 L398.1,1897.0 L398.6,1899.2 L399.1,1901.5 L399.5,1903.7 L399.9,1906.0 L400.3,1908.2 L400.7,1910.4 L401.0,1912.7 L401.3,1914.9 L401.6,1917.1 L401.8,1919.4 L402.1,1921.6 L402.2,1923.8 L402.4,1926.0 L402.5,1928.2 L402.6,1930.4 L402.7,1932.6 L402.7,1934.8 L402.7,1936.9 L402.7,1939.1 L402.6,1941.2 L402.5,1943.4 L402.4,1945.5 L402.3,1947.6 L402.1,1949.7 L401.9,1951.7 L401.6,1953.8 L401.4,1955.8 L401.1,1957.9 L400.8,1959.9 L400.4,1961.9 L400.0,1963.8 L399.6,1965.8 L399.2,1967.7 L398.7,1969.6 L398.2,1971.5 L397.7,1973.4 L397.1,1975.2 L396.5,1977.1 L395.9,1978.9 L395.3,1980.6 L394.6,1982.4 L393.9,1984.1 L393.2,1985.8 L392.4,1987.5 L391.6,1989.2 L390.8,1990.8 L390.0,1992.4 L389.1,1994.0 L388.2,1995.5 L387.3,1997.0 L386.4,1998.5 L385.4,2000.0 L384.4,2001.4 L383.4,2002.8 L382.4,2004.1 L381.3,2005.5 L380.3,2006.8 L379.1,2008.1 L378.0,2009.3 L376.9,2010.5 L375.7,2011.7 L374.5,2012.8 L373.3,2013.9 L372.0,2015.0 L370.8,2016.0 L369.5,2017.0 L368.2,2018.0 L366.9,2018.9 L365.5,2019.8 L364.2,2020.6 L362.8,2021.5 L361.4,2022.2 L360.0,2023.0 L358.6,2023.7 L357.1,2024.4 Z" fill="#050505"/>
<path d="M296.0,1801.0 C300.5,1798.3 313.2,1805.7 322.0,1811.0 C330.8,1816.3 341.5,1824.8 349.0,1833.0 C356.5,1841.2 361.9,1849.5 367.0,1860.0 C372.1,1870.5 376.7,1884.0 379.5,1896.0 C382.3,1908.0 383.4,1922.5 384.0,1932.0 C384.6,1941.5 384.7,1950.8 383.0,1953.0 C381.3,1955.2 379.7,1949.6 373.7,1945.0 C367.7,1940.4 355.8,1933.2 346.9,1925.5 C337.9,1917.8 327.4,1909.1 320.0,1898.7 C312.6,1888.3 306.4,1874.9 302.2,1863.0 C298.0,1851.1 296.0,1837.5 295.0,1827.2 C294.0,1816.9 291.5,1803.7 296.0,1801.0 Z" fill="#fff"/>
<ellipse cx="339.4" cy="1765" rx="19.5" ry="11" fill="#5a4520"/>
<ellipse cx="339.4" cy="1766" rx="18.5" ry="9.8" fill="#fff"/>
<ellipse cx="340.6" cy="1973.8" rx="17" ry="7" fill="#fff"/>
<path d="M295,2041 L363,2040 C372,2042 373,2050 368,2056 C382,2075 400,2110 410,2141 C418,2165 416,2190 406,2203 C398,2215 390,2222 380,2224 L322,2226 C313,2224 309,2216 310,2208 C305,2200 300,2193 298,2188 C280,2160 265,2125 262,2100 C260,2075 268,2055 283,2045 Z" fill="url(#gDisc)"/>
<linearGradient id="gHub" x1="0" x2="1" y1="0" y2="0"><stop offset="0" stop-color="#8a8a88"/><stop offset="0.08" stop-color="#9a9a98"/><stop offset="0.5" stop-color="#a5a5a3"/><stop offset="0.85" stop-color="#9d9d9b"/><stop offset="1" stop-color="#939391"/></linearGradient>
<path d="M309.5,2058 L368,2058 L368,2216 C350,2225 330,2225 311,2218 C309.5,2214 309.5,2212 309.5,2208 Z" fill="url(#gHub)"/>
<ellipse cx="339.8" cy="2054" rx="21" ry="12" fill="#a8a8a5"/>
<ellipse cx="339.8" cy="2054" rx="15.4" ry="8.6" fill="#4d4d4a"/>
<path d="M370,2068 C386,2092 404,2130 410,2170 C412,2185 410,2195 405,2203" fill="none" stroke="#b2b2b0" stroke-width="1.6"/>
<path d="M366,2078 C380,2100 398,2135 404,2172" fill="none" stroke="#a8a8a6" stroke-width="1"/>
<line x1="352" y1="479" x2="759.3" y2="339" stroke="#111" stroke-width="2.3"/>
<line x1="342" y1="814" x2="758.5" y2="539.3" stroke="#111" stroke-width="2.3"/>
<line x1="358" y1="867.5" x2="757.8" y2="636.3" stroke="#111" stroke-width="2.8"/>
<line x1="346" y1="928" x2="757.4" y2="777.5" stroke="#111" stroke-width="2.4"/>
<line x1="350.6" y1="953.8" x2="756.7" y2="855.1" stroke="#111" stroke-width="2.4"/>
<line x1="358.4" y1="995.8" x2="757.7" y2="957.7" stroke="#111" stroke-width="2.4"/>
<line x1="357.6" y1="1030.7" x2="757.7" y2="999.5" stroke="#111" stroke-width="2.4"/>
<line x1="350.2" y1="1094.2" x2="757" y2="1050.7" stroke="#111" stroke-width="2.4"/>
<line x1="363.5" y1="1249" x2="759.3" y2="1148.5" stroke="#111" stroke-width="2.3"/>
<line x1="362.8" y1="1688.6" x2="757.8" y2="1403.3" stroke="#111" stroke-width="2.3"/>
<line x1="402.6" y1="1785.7" x2="756.6" y2="1460.2" stroke="#111" stroke-width="2.3"/>
<line x1="385.4" y1="2091" x2="755.3" y2="1853.6" stroke="#111" stroke-width="2.3"/></svg>
<div class="t" style="left:759.9px;top:328.2px;font-size:27.7px;color:#4a6397;">1</div>
<div class="t" style="left:868.1px;top:328.2px;font-size:27.7px;color:#4a6397;">Shaft</div>
<div class="t" style="left:1148.3px;top:328.0px;font-size:27.7px;color:#4a6397;">Stainless Steel</div>
<div class="t" style="left:1144.8px;top:425.5px;font-size:27.7px;color:#4a6397;">Bronze</div>
<div class="t" style="left:759.0px;top:523.1px;font-size:27.7px;color:#4a6397;">2</div>
<div class="t" style="left:867.6px;top:523.1px;font-size:27.7px;color:#4a6397;">Retaining Ring</div>
<div class="t" style="left:1150.8px;top:523.0px;font-size:27.7px;color:#4a6397;">Sk7</div>
<div class="t" style="left:760.5px;top:620.0px;font-size:27.7px;color:#4a6397;">3</div>
<div class="t" style="left:868.8px;top:620.0px;font-size:27.7px;color:#4a6397;">Thrust &nbsp;Washer</div>
<div class="t" style="left:1142.8px;top:620.0px;font-size:27.7px;color:#4a6397;">Stainless Steel</div>
<div class="t" style="left:760.1px;top:766.1px;font-size:27.7px;color:#4a6397;">4</div>
<div class="t" style="left:876.2px;top:766.1px;font-size:27.7px;color:#4a6397;">Shaft &nbsp;Retainer</div>
<div class="t" style="left:1145.7px;top:766.1px;font-size:27.7px;color:#4a6397;">Stainless Steel</div>
<div class="t" style="left:766.9px;top:832.1px;font-size:27.7px;color:#4a6397;">5</div>
<div class="t" style="left:882.5px;top:832.1px;font-size:27.7px;color:#4a6397;">Short &nbsp;Bushing</div>
<div class="t" style="left:1157.1px;top:832.1px;font-size:27.7px;color:#4a6397;">FRP</div>
<div class="t" style="left:763.0px;top:938.4px;font-size:27.7px;color:#4a6397;">6</div>
<div class="t" style="left:879.3px;top:938.4px;font-size:27.7px;color:#4a6397;">“O” Ring</div>
<div class="t" style="left:1153.5px;top:938.4px;font-size:27.7px;color:#4a6397;">NBR &nbsp;/ VITON</div>
<div class="t" style="left:763.0px;top:987.5px;font-size:27.7px;color:#4a6397;">7</div>
<div class="t" style="left:879.1px;top:987.5px;font-size:27.7px;color:#4a6397;">Short &nbsp;Bushing</div>
<div class="t" style="left:1153.5px;top:987.5px;font-size:27.7px;color:#4a6397;">FRP</div>
<div class="t" style="left:763.8px;top:1036.0px;font-size:27.7px;color:#4a6397;">8</div>
<div class="t" style="left:879.1px;top:1036.0px;font-size:27.7px;color:#4a6397;">Long &nbsp;Bushing</div>
<div class="t" style="left:1156.5px;top:1036.0px;font-size:27.7px;color:#4a6397;">FRP</div>
<div class="t" style="left:763.2px;top:1133.2px;font-size:27.7px;color:#4a6397;">9</div>
<div class="t" style="left:878.8px;top:1133.2px;font-size:27.7px;color:#4a6397;">Body</div>
<div class="t" style="left:1152.5px;top:1133.1px;font-size:27.7px;color:#4a6397;">GG20 GG25</div>
<div class="t" style="left:1149.2px;top:1181.8px;font-size:27.7px;color:#4a6397;">GGG40 GGG45 GGG50</div>
<div class="t" style="left:1155.2px;top:1230.5px;font-size:27.7px;color:#4a6397;">WCB WCC LCC LCB</div>
<div class="t" style="left:1154.8px;top:1278.7px;font-size:27.7px;color:#4a6397;">CF8 CF8M CF3 CF3M</div>
<div class="t" style="left:1153.9px;top:1328.0px;font-size:27.7px;color:#4a6397;">C95800 C95400 &nbsp;C95500</div>
<div class="t" style="left:756.4px;top:1376.1px;font-size:27.7px;color:#4a6397;">10</div>
<div class="t" style="left:878.5px;top:1376.1px;font-size:27.7px;color:#4a6397;">Long &nbsp;Bushing</div>
<div class="t" style="left:1156.2px;top:1376.1px;font-size:27.7px;color:#4a6397;">FRP</div>
<div class="t" style="left:754.9px;top:1433.3px;font-size:27.7px;color:#4a6397;">11</div>
<div class="t" style="left:878.1px;top:1433.3px;font-size:27.7px;color:#4a6397;">Body seat</div>
<div class="t" style="left:1155.2px;top:1432.8px;font-size:27.7px;color:#4a6397;">NBR(BUNA-N)</div>
<div class="t" style="left:1154.5px;top:1490.5px;font-size:27.7px;color:#4a6397;">EPDM</div>
<div class="t" style="left:1154.5px;top:1539.8px;font-size:27.7px;color:#4a6397;">HEPDM</div>
<div class="t" style="left:1155.1px;top:1588.5px;font-size:27.7px;color:#4a6397;">FKM(VITON)</div>
<div class="t" style="left:1154.0px;top:1637.2px;font-size:27.7px;color:#4a6397;">Polychloroprene</div>
<div class="t" style="left:1155.9px;top:1686.0px;font-size:27.7px;color:#4a6397;">Natural Rubber</div>
<div class="t" style="left:756.4px;top:1832.4px;font-size:27.7px;color:#4a6397;">12</div>
<div class="t" style="left:878.8px;top:1832.4px;font-size:27.7px;color:#4a6397;">Disc</div>
<div class="t" style="left:1156.8px;top:1832.4px;font-size:27.7px;color:#4a6397;">GGG40 GGG45 GGG50</div>
<div class="t" style="left:1157.5px;top:1880.5px;font-size:27.7px;color:#4a6397;">WCB WCC LCC LCB</div>
<div class="t" style="left:1154.7px;top:1929.8px;font-size:27.7px;color:#4a6397;">CF8 CF8M CF3 CF3M</div>
<div class="t" style="left:1155.8px;top:1978.1px;font-size:27.7px;color:#4a6397;">C95800 &nbsp;C95400 C95500</div>
<div class="t" style="left:1155.6px;top:1736.8px;font-size:25.3px;color:#4a6397;">Sillicon Rubb</div>
<div class="t" style="left:745.2px;top:2235.8px;font-size:27.6px;color:#4a6397;">Page 6</div>
<div class="wm" style="left:-219.8px;top:231.5px;transform-origin:0 33.4px;">Tianjin Worlds Valve Co.,Ltd.</div>
<div class="wm" style="left:-219.8px;top:931.5px;transform-origin:0 33.4px;">Tianjin Worlds Valve Co.,Ltd.</div>
<div class="wm" style="left:-219.8px;top:1631.5px;transform-origin:0 33.4px;">Tianjin Worlds Valve Co.,Ltd.</div>
<div class="wm" style="left:-219.8px;top:2331.5px;transform-origin:0 33.4px;">Tianjin Worlds Valve Co.,Ltd.</div>
<div class="wm" style="left:605.2px;top:231.5px;transform-origin:0 33.4px;">Tianjin Worlds Valve Co.,Ltd.</div>
<div class="wm" style="left:605.2px;top:931.5px;transform-origin:0 33.4px;">Tianjin Worlds Valve Co.,Ltd.</div>
<div class="wm" style="left:605.2px;top:1631.5px;transform-origin:0 33.4px;">Tianjin Worlds Valve Co.,Ltd.</div>
<div class="wm" style="left:605.2px;top:2331.5px;transform-origin:0 33.4px;">Tianjin Worlds Valve Co.,Ltd.</div>
<div class="wm" style="left:1430.2px;top:231.5px;transform-origin:0 33.4px;">Tianjin Worlds Valve Co.,Ltd.</div>
<div class="wm" style="left:1430.2px;top:931.5px;transform-origin:0 33.4px;">Tianjin Worlds Valve Co.,Ltd.</div>
<div class="wm" style="left:1430.2px;top:1631.5px;transform-origin:0 33.4px;">Tianjin Worlds Valve Co.,Ltd.</div>
<div class="wm" style="left:1430.2px;top:2331.5px;transform-origin:0 33.4px;">Tianjin Worlds Valve Co.,Ltd.</div>
</body></html>
